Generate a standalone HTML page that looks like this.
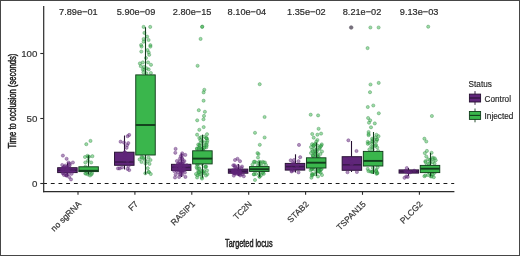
<!DOCTYPE html>
<html><head><meta charset="utf-8"><style>
html,body{margin:0;padding:0;background:#fff;width:520px;height:256px;overflow:hidden}
svg{display:block;will-change:transform}
text{font-family:"Liberation Sans",sans-serif}
.t{font-size:9.7px;fill:#333;stroke:#333;stroke-width:0.2px}
.xl{font-size:8.5px;fill:#333;stroke:#333;stroke-width:0.2px}
.p{font-size:9.2px;fill:#2a2a2a;stroke:#2a2a2a;stroke-width:0.2px}
.l{font-size:8.2px;fill:#1e1e1e;stroke:#1e1e1e;stroke-width:0.15px}
.ti{font-size:10px;fill:#1a1a1a;stroke:#1a1a1a;stroke-width:0.45px}
</style></head><body><svg width="520" height="256" viewBox="0 0 520 256"><rect x="0" y="0" width="520" height="256" fill="#fff"/><line x1="43.1" y1="183.5" x2="454.2" y2="183.5" stroke="#1a1a1a" stroke-width="1.1" stroke-dasharray="3.85 3.85"/><g fill="rgb(58,182,76)" fill-opacity="0.5" stroke="rgb(40,130,60)" stroke-opacity="0.5" stroke-width="0.7"><circle cx="86.3" cy="144.2" r="1.6"/><circle cx="90.5" cy="140.9" r="1.6"/><circle cx="85.0" cy="157.0" r="1.6"/><circle cx="89.0" cy="156.7" r="1.6"/><circle cx="91.2" cy="162.5" r="1.6"/><circle cx="85.3" cy="162.5" r="1.6"/><circle cx="88.0" cy="160.7" r="1.6"/><circle cx="85.3" cy="173.5" r="1.6"/><circle cx="88.0" cy="174.5" r="1.6"/><circle cx="92.0" cy="173.2" r="1.6"/><circle cx="90.0" cy="175.5" r="1.6"/><circle cx="92.4" cy="156.2" r="1.6"/><circle cx="85.4" cy="166.8" r="1.6"/><circle cx="88.3" cy="156.9" r="1.6"/><circle cx="87.5" cy="155.8" r="1.6"/><circle cx="90.0" cy="171.7" r="1.6"/><circle cx="86.1" cy="173.6" r="1.6"/><circle cx="86.8" cy="171.7" r="1.6"/><circle cx="91.4" cy="174.4" r="1.6"/><circle cx="143.6" cy="26.9" r="1.6"/><circle cx="150.2" cy="26.9" r="1.6"/><circle cx="144.4" cy="32.9" r="1.6"/><circle cx="143.6" cy="39.0" r="1.6"/><circle cx="148.6" cy="40.0" r="1.6"/><circle cx="141.1" cy="45.0" r="1.6"/><circle cx="150.4" cy="45.2" r="1.6"/><circle cx="141.6" cy="46.6" r="1.6"/><circle cx="150.4" cy="46.6" r="1.6"/><circle cx="141.3" cy="51.6" r="1.6"/><circle cx="147.5" cy="50.1" r="1.6"/><circle cx="148.7" cy="52.4" r="1.6"/><circle cx="149.2" cy="54.8" r="1.6"/><circle cx="139.9" cy="63.4" r="1.6"/><circle cx="142.8" cy="62.4" r="1.6"/><circle cx="148.1" cy="62.4" r="1.6"/><circle cx="151.0" cy="64.8" r="1.6"/><circle cx="148.7" cy="69.4" r="1.6"/><circle cx="143.4" cy="72.4" r="1.6"/><circle cx="146.0" cy="58.0" r="1.6"/><circle cx="144.0" cy="67.0" r="1.6"/><circle cx="139.6" cy="159.4" r="1.6"/><circle cx="141.5" cy="162.0" r="1.6"/><circle cx="143.5" cy="158.0" r="1.6"/><circle cx="148.5" cy="157.5" r="1.6"/><circle cx="150.5" cy="160.0" r="1.6"/><circle cx="147.5" cy="161.5" r="1.6"/><circle cx="145.5" cy="163.5" r="1.6"/><circle cx="147.8" cy="168.2" r="1.6"/><circle cx="148.5" cy="172.0" r="1.6"/><circle cx="150.8" cy="174.0" r="1.6"/><circle cx="144.3" cy="69.5" r="1.6"/><circle cx="147.1" cy="36.6" r="1.6"/><circle cx="150.9" cy="73.0" r="1.6"/><circle cx="142.8" cy="69.4" r="1.6"/><circle cx="143.6" cy="41.7" r="1.6"/><circle cx="140.8" cy="66.2" r="1.6"/><circle cx="146.4" cy="73.3" r="1.6"/><circle cx="146.6" cy="68.3" r="1.6"/><circle cx="145.0" cy="159.9" r="1.6"/><circle cx="145.3" cy="173.3" r="1.6"/><circle cx="149.5" cy="163.9" r="1.6"/><circle cx="141.7" cy="156.8" r="1.6"/><circle cx="149.0" cy="172.0" r="1.6"/><circle cx="142.1" cy="157.8" r="1.6"/><circle cx="202.3" cy="26.6" r="1.6"/><circle cx="202.1" cy="26.9" r="1.6"/><circle cx="200.6" cy="38.9" r="1.6"/><circle cx="197.6" cy="65.8" r="1.6"/><circle cx="204.3" cy="89.8" r="1.6"/><circle cx="203.6" cy="92.4" r="1.6"/><circle cx="203.6" cy="100.7" r="1.6"/><circle cx="198.8" cy="110.2" r="1.6"/><circle cx="204.9" cy="111.8" r="1.6"/><circle cx="204.0" cy="115.9" r="1.6"/><circle cx="203.5" cy="119.3" r="1.6"/><circle cx="197.2" cy="120.3" r="1.6"/><circle cx="203.7" cy="127.1" r="1.6"/><circle cx="199.3" cy="129.8" r="1.6"/><circle cx="197.1" cy="134.7" r="1.6"/><circle cx="207.0" cy="134.2" r="1.6"/><circle cx="199.3" cy="138.0" r="1.6"/><circle cx="206.4" cy="138.0" r="1.6"/><circle cx="198.2" cy="144.6" r="1.6"/><circle cx="206.4" cy="144.6" r="1.6"/><circle cx="200.4" cy="140.2" r="1.6"/><circle cx="204.8" cy="142.4" r="1.6"/><circle cx="199.8" cy="147.3" r="1.6"/><circle cx="206.4" cy="147.3" r="1.6"/><circle cx="204.2" cy="145.7" r="1.6"/><circle cx="197.0" cy="149.0" r="1.6"/><circle cx="202.0" cy="149.5" r="1.6"/><circle cx="196.6" cy="167.1" r="1.6"/><circle cx="199.3" cy="168.2" r="1.6"/><circle cx="205.3" cy="167.1" r="1.6"/><circle cx="207.0" cy="170.4" r="1.6"/><circle cx="198.2" cy="171.5" r="1.6"/><circle cx="204.2" cy="173.1" r="1.6"/><circle cx="197.1" cy="177.5" r="1.6"/><circle cx="202.0" cy="178.6" r="1.6"/><circle cx="200.4" cy="174.2" r="1.6"/><circle cx="206.0" cy="175.5" r="1.6"/><circle cx="196.0" cy="174.0" r="1.6"/><circle cx="203.5" cy="150.7" r="1.6"/><circle cx="199.4" cy="145.0" r="1.6"/><circle cx="202.4" cy="141.0" r="1.6"/><circle cx="207.0" cy="142.6" r="1.6"/><circle cx="197.0" cy="148.4" r="1.6"/><circle cx="204.4" cy="147.8" r="1.6"/><circle cx="198.8" cy="149.1" r="1.6"/><circle cx="204.2" cy="136.7" r="1.6"/><circle cx="206.7" cy="145.6" r="1.6"/><circle cx="204.2" cy="147.4" r="1.6"/><circle cx="201.6" cy="149.1" r="1.6"/><circle cx="207.0" cy="138.8" r="1.6"/><circle cx="201.1" cy="137.2" r="1.6"/><circle cx="200.4" cy="143.2" r="1.6"/><circle cx="202.4" cy="149.8" r="1.6"/><circle cx="206.2" cy="138.2" r="1.6"/><circle cx="207.4" cy="140.7" r="1.6"/><circle cx="198.8" cy="148.1" r="1.6"/><circle cx="199.9" cy="145.5" r="1.6"/><circle cx="201.5" cy="148.9" r="1.6"/><circle cx="202.3" cy="171.1" r="1.6"/><circle cx="206.1" cy="166.6" r="1.6"/><circle cx="201.9" cy="177.4" r="1.6"/><circle cx="197.2" cy="164.3" r="1.6"/><circle cx="197.4" cy="175.3" r="1.6"/><circle cx="203.2" cy="172.4" r="1.6"/><circle cx="205.6" cy="166.6" r="1.6"/><circle cx="198.4" cy="164.0" r="1.6"/><circle cx="197.2" cy="168.5" r="1.6"/><circle cx="199.5" cy="174.5" r="1.6"/><circle cx="197.4" cy="164.8" r="1.6"/><circle cx="201.8" cy="171.1" r="1.6"/><circle cx="204.1" cy="171.1" r="1.6"/><circle cx="207.4" cy="174.1" r="1.6"/><circle cx="199.1" cy="172.0" r="1.6"/><circle cx="198.9" cy="168.8" r="1.6"/><circle cx="202.1" cy="163.9" r="1.6"/><circle cx="198.9" cy="172.5" r="1.6"/><circle cx="259.7" cy="84.2" r="1.6"/><circle cx="264.6" cy="117.0" r="1.6"/><circle cx="255.0" cy="132.8" r="1.6"/><circle cx="264.6" cy="137.5" r="1.6"/><circle cx="259.8" cy="144.8" r="1.6"/><circle cx="258.5" cy="154.0" r="1.6"/><circle cx="257.5" cy="153.1" r="1.6"/><circle cx="258.0" cy="157.5" r="1.6"/><circle cx="253.8" cy="161.9" r="1.6"/><circle cx="256.2" cy="162.5" r="1.6"/><circle cx="262.5" cy="161.9" r="1.6"/><circle cx="265.0" cy="162.5" r="1.6"/><circle cx="253.8" cy="174.4" r="1.6"/><circle cx="261.2" cy="175.0" r="1.6"/><circle cx="263.8" cy="173.8" r="1.6"/><circle cx="255.0" cy="180.0" r="1.6"/><circle cx="252.5" cy="164.5" r="1.6"/><circle cx="266.0" cy="165.0" r="1.6"/><circle cx="259.2" cy="161.7" r="1.6"/><circle cx="254.7" cy="161.7" r="1.6"/><circle cx="259.6" cy="166.0" r="1.6"/><circle cx="261.8" cy="165.7" r="1.6"/><circle cx="259.6" cy="163.8" r="1.6"/><circle cx="260.0" cy="162.4" r="1.6"/><circle cx="258.0" cy="165.6" r="1.6"/><circle cx="263.7" cy="162.4" r="1.6"/><circle cx="263.2" cy="172.0" r="1.6"/><circle cx="259.6" cy="176.7" r="1.6"/><circle cx="256.0" cy="173.9" r="1.6"/><circle cx="259.3" cy="173.7" r="1.6"/><circle cx="254.1" cy="174.1" r="1.6"/><circle cx="259.5" cy="176.7" r="1.6"/><circle cx="262.6" cy="172.9" r="1.6"/><circle cx="310.7" cy="114.7" r="1.6"/><circle cx="318.1" cy="115.4" r="1.6"/><circle cx="318.6" cy="128.8" r="1.6"/><circle cx="312.2" cy="134.0" r="1.6"/><circle cx="317.4" cy="134.7" r="1.6"/><circle cx="321.1" cy="133.6" r="1.6"/><circle cx="313.7" cy="137.7" r="1.6"/><circle cx="317.4" cy="140.0" r="1.6"/><circle cx="315.6" cy="143.7" r="1.6"/><circle cx="321.8" cy="144.4" r="1.6"/><circle cx="316.3" cy="141.6" r="1.6"/><circle cx="313.8" cy="145.7" r="1.6"/><circle cx="321.2" cy="145.7" r="1.6"/><circle cx="312.2" cy="149.8" r="1.6"/><circle cx="319.6" cy="149.0" r="1.6"/><circle cx="315.5" cy="153.1" r="1.6"/><circle cx="320.4" cy="154.0" r="1.6"/><circle cx="313.0" cy="155.6" r="1.6"/><circle cx="317.0" cy="151.0" r="1.6"/><circle cx="322.0" cy="151.5" r="1.6"/><circle cx="311.0" cy="153.0" r="1.6"/><circle cx="310.6" cy="170.3" r="1.6"/><circle cx="313.0" cy="174.4" r="1.6"/><circle cx="311.4" cy="177.7" r="1.6"/><circle cx="319.6" cy="172.0" r="1.6"/><circle cx="320.4" cy="169.5" r="1.6"/><circle cx="316.3" cy="172.0" r="1.6"/><circle cx="322.0" cy="175.0" r="1.6"/><circle cx="314.0" cy="169.5" r="1.6"/><circle cx="318.0" cy="176.5" r="1.6"/><circle cx="320.6" cy="146.4" r="1.6"/><circle cx="314.2" cy="152.4" r="1.6"/><circle cx="317.5" cy="156.3" r="1.6"/><circle cx="312.1" cy="144.2" r="1.6"/><circle cx="311.0" cy="147.1" r="1.6"/><circle cx="313.2" cy="156.3" r="1.6"/><circle cx="314.2" cy="148.8" r="1.6"/><circle cx="317.5" cy="154.2" r="1.6"/><circle cx="318.7" cy="157.2" r="1.6"/><circle cx="316.3" cy="157.0" r="1.6"/><circle cx="312.9" cy="155.6" r="1.6"/><circle cx="315.5" cy="151.5" r="1.6"/><circle cx="315.2" cy="153.9" r="1.6"/><circle cx="312.5" cy="151.6" r="1.6"/><circle cx="317.6" cy="156.2" r="1.6"/><circle cx="316.5" cy="149.7" r="1.6"/><circle cx="317.4" cy="145.7" r="1.6"/><circle cx="313.3" cy="145.6" r="1.6"/><circle cx="319.6" cy="147.8" r="1.6"/><circle cx="314.2" cy="144.6" r="1.6"/><circle cx="320.9" cy="169.6" r="1.6"/><circle cx="321.7" cy="168.9" r="1.6"/><circle cx="312.2" cy="174.8" r="1.6"/><circle cx="318.7" cy="169.1" r="1.6"/><circle cx="311.8" cy="169.2" r="1.6"/><circle cx="315.3" cy="174.2" r="1.6"/><circle cx="312.1" cy="173.8" r="1.6"/><circle cx="318.2" cy="170.2" r="1.6"/><circle cx="312.9" cy="168.0" r="1.6"/><circle cx="320.7" cy="172.7" r="1.6"/><circle cx="312.0" cy="175.6" r="1.6"/><circle cx="319.0" cy="171.1" r="1.6"/><circle cx="318.2" cy="171.1" r="1.6"/><circle cx="311.5" cy="168.8" r="1.6"/><circle cx="370.4" cy="27.5" r="1.6"/><circle cx="378.6" cy="27.5" r="1.6"/><circle cx="367.6" cy="48.1" r="1.6"/><circle cx="370.5" cy="84.5" r="1.6"/><circle cx="378.7" cy="82.9" r="1.6"/><circle cx="370.0" cy="92.2" r="1.6"/><circle cx="367.8" cy="107.0" r="1.6"/><circle cx="373.3" cy="105.5" r="1.6"/><circle cx="378.8" cy="113.3" r="1.6"/><circle cx="368.1" cy="118.0" r="1.6"/><circle cx="370.2" cy="120.3" r="1.6"/><circle cx="369.0" cy="122.7" r="1.6"/><circle cx="374.8" cy="123.4" r="1.6"/><circle cx="371.0" cy="127.3" r="1.6"/><circle cx="368.6" cy="132.0" r="1.6"/><circle cx="368.6" cy="135.2" r="1.6"/><circle cx="375.6" cy="137.5" r="1.6"/><circle cx="372.9" cy="139.7" r="1.6"/><circle cx="376.3" cy="141.4" r="1.6"/><circle cx="375.5" cy="145.7" r="1.6"/><circle cx="371.2" cy="146.6" r="1.6"/><circle cx="377.2" cy="147.5" r="1.6"/><circle cx="369.0" cy="143.0" r="1.6"/><circle cx="367.7" cy="168.9" r="1.6"/><circle cx="370.3" cy="171.5" r="1.6"/><circle cx="376.3" cy="169.8" r="1.6"/><circle cx="377.2" cy="173.2" r="1.6"/><circle cx="373.0" cy="172.0" r="1.6"/><circle cx="378.5" cy="136.2" r="1.6"/><circle cx="368.6" cy="134.0" r="1.6"/><circle cx="378.1" cy="151.0" r="1.6"/><circle cx="376.0" cy="144.8" r="1.6"/><circle cx="372.7" cy="147.3" r="1.6"/><circle cx="372.3" cy="143.7" r="1.6"/><circle cx="367.7" cy="141.9" r="1.6"/><circle cx="376.9" cy="139.6" r="1.6"/><circle cx="372.6" cy="149.6" r="1.6"/><circle cx="372.1" cy="138.7" r="1.6"/><circle cx="369.4" cy="149.4" r="1.6"/><circle cx="367.8" cy="143.8" r="1.6"/><circle cx="376.4" cy="134.8" r="1.6"/><circle cx="377.1" cy="139.5" r="1.6"/><circle cx="372.0" cy="141.3" r="1.6"/><circle cx="373.1" cy="141.9" r="1.6"/><circle cx="376.5" cy="173.8" r="1.6"/><circle cx="377.6" cy="167.2" r="1.6"/><circle cx="376.2" cy="171.3" r="1.6"/><circle cx="372.1" cy="172.0" r="1.6"/><circle cx="377.3" cy="172.9" r="1.6"/><circle cx="376.0" cy="170.8" r="1.6"/><circle cx="372.1" cy="171.5" r="1.6"/><circle cx="368.4" cy="171.1" r="1.6"/><circle cx="372.8" cy="167.8" r="1.6"/><circle cx="428.2" cy="26.7" r="1.6"/><circle cx="431.9" cy="116.0" r="1.6"/><circle cx="424.4" cy="138.7" r="1.6"/><circle cx="426.3" cy="141.5" r="1.6"/><circle cx="426.9" cy="150.9" r="1.6"/><circle cx="426.3" cy="156.5" r="1.6"/><circle cx="428.2" cy="159.3" r="1.6"/><circle cx="434.8" cy="158.4" r="1.6"/><circle cx="435.7" cy="160.3" r="1.6"/><circle cx="425.4" cy="161.2" r="1.6"/><circle cx="432.9" cy="162.1" r="1.6"/><circle cx="430.0" cy="163.0" r="1.6"/><circle cx="424.4" cy="176.2" r="1.6"/><circle cx="433.8" cy="177.2" r="1.6"/><circle cx="432.0" cy="174.3" r="1.6"/><circle cx="428.0" cy="175.0" r="1.6"/><circle cx="431.6" cy="152.8" r="1.6"/><circle cx="432.9" cy="157.7" r="1.6"/><circle cx="424.8" cy="153.1" r="1.6"/><circle cx="432.6" cy="159.0" r="1.6"/><circle cx="428.9" cy="163.5" r="1.6"/><circle cx="426.6" cy="165.2" r="1.6"/><circle cx="425.6" cy="162.2" r="1.6"/><circle cx="434.5" cy="163.6" r="1.6"/><circle cx="430.1" cy="159.9" r="1.6"/><circle cx="430.7" cy="176.3" r="1.6"/><circle cx="431.5" cy="176.5" r="1.6"/><circle cx="425.3" cy="175.5" r="1.6"/><circle cx="432.9" cy="174.5" r="1.6"/><circle cx="434.7" cy="172.7" r="1.6"/><circle cx="429.7" cy="172.9" r="1.6"/></g><g stroke-width="0.95"><g stroke="rgb(38,16,50)"><line x1="67.50" y1="162.5" x2="67.50" y2="167.7" stroke-width="1.1"/><line x1="67.50" y1="172.6" x2="67.50" y2="176.0" stroke-width="1.1"/><rect x="57.65" y="167.7" width="19.50" height="4.90" fill="rgb(96,38,122)"/><line x1="57.65" y1="170.2" x2="77.15" y2="170.2" stroke-width="1.6" stroke="rgb(60,25,78)"/></g><g stroke="rgb(18,62,28)"><line x1="88.50" y1="155.5" x2="88.50" y2="166.8" stroke-width="1.1"/><line x1="88.50" y1="171.6" x2="88.50" y2="174.5" stroke-width="1.1"/><rect x="78.85" y="166.8" width="19.50" height="4.80" fill="rgb(58,182,76)"/><line x1="78.85" y1="170.8" x2="98.35" y2="170.8" stroke-width="1.9"/></g><g stroke="rgb(38,16,50)"><line x1="124.50" y1="135.5" x2="124.50" y2="152.2" stroke-width="1.1"/><line x1="124.50" y1="165.3" x2="124.50" y2="169.5" stroke-width="1.1"/><rect x="114.55" y="152.2" width="19.50" height="13.10" fill="rgb(96,38,122)"/><line x1="114.55" y1="162.0" x2="134.05" y2="162.0" stroke-width="1.6" stroke="rgb(60,25,78)"/></g><g stroke="rgb(18,62,28)"><line x1="145.50" y1="27.2" x2="145.50" y2="74.9" stroke-width="1.1"/><line x1="145.50" y1="155.0" x2="145.50" y2="174.4" stroke-width="1.1"/><rect x="135.75" y="74.9" width="19.50" height="80.10" fill="rgb(58,182,76)"/><line x1="135.75" y1="125.0" x2="155.25" y2="125.0" stroke-width="1.9"/></g><g stroke="rgb(38,16,50)"><line x1="181.50" y1="153.4" x2="181.50" y2="164.3" stroke-width="1.1"/><line x1="181.50" y1="170.4" x2="181.50" y2="177.0" stroke-width="1.1"/><rect x="171.45" y="164.3" width="19.50" height="6.10" fill="rgb(96,38,122)"/><line x1="171.45" y1="167.4" x2="190.95" y2="167.4" stroke-width="1.6" stroke="rgb(60,25,78)"/></g><g stroke="rgb(18,62,28)"><line x1="202.50" y1="134.6" x2="202.50" y2="150.8" stroke-width="1.1"/><line x1="202.50" y1="163.9" x2="202.50" y2="177.7" stroke-width="1.1"/><rect x="192.65" y="150.8" width="19.50" height="13.10" fill="rgb(58,182,76)"/><line x1="192.65" y1="158.6" x2="212.15" y2="158.6" stroke-width="1.9"/></g><g stroke="rgb(38,16,50)"><line x1="238.50" y1="164.0" x2="238.50" y2="169.1" stroke-width="1.1"/><line x1="238.50" y1="173.2" x2="238.50" y2="176.0" stroke-width="1.1"/><rect x="228.35" y="169.1" width="19.50" height="4.10" fill="rgb(96,38,122)"/><line x1="228.35" y1="171.2" x2="247.85" y2="171.2" stroke-width="1.6" stroke="rgb(60,25,78)"/></g><g stroke="rgb(18,62,28)"><line x1="259.50" y1="161.3" x2="259.50" y2="166.6" stroke-width="1.1"/><line x1="259.50" y1="171.4" x2="259.50" y2="176.9" stroke-width="1.1"/><rect x="249.55" y="166.6" width="19.50" height="4.80" fill="rgb(58,182,76)"/><line x1="249.55" y1="169.2" x2="269.05" y2="169.2" stroke-width="1.9"/></g><g stroke="rgb(38,16,50)"><line x1="295.50" y1="154.3" x2="295.50" y2="163.4" stroke-width="1.1"/><line x1="295.50" y1="170.1" x2="295.50" y2="172.5" stroke-width="1.1"/><rect x="285.25" y="163.4" width="19.50" height="6.70" fill="rgb(96,38,122)"/><line x1="285.25" y1="166.6" x2="304.75" y2="166.6" stroke-width="1.6" stroke="rgb(60,25,78)"/></g><g stroke="rgb(18,62,28)"><line x1="316.50" y1="142.6" x2="316.50" y2="157.8" stroke-width="1.1"/><line x1="316.50" y1="168.0" x2="316.50" y2="176.0" stroke-width="1.1"/><rect x="306.45" y="157.8" width="19.50" height="10.20" fill="rgb(58,182,76)"/><line x1="306.45" y1="162.7" x2="325.95" y2="162.7" stroke-width="1.9"/></g><g stroke="rgb(38,16,50)"><line x1="351.50" y1="141.0" x2="351.50" y2="156.7" stroke-width="1.1"/><line x1="351.50" y1="170.3" x2="351.50" y2="172.0" stroke-width="1.1"/><rect x="342.15" y="156.7" width="19.50" height="13.60" fill="rgb(96,38,122)"/><line x1="342.15" y1="164.8" x2="361.65" y2="164.8" stroke-width="1.6" stroke="rgb(60,25,78)"/></g><g stroke="rgb(18,62,28)"><line x1="373.50" y1="132.0" x2="373.50" y2="151.4" stroke-width="1.1"/><line x1="373.50" y1="166.0" x2="373.50" y2="174.0" stroke-width="1.1"/><rect x="363.35" y="151.4" width="19.50" height="14.60" fill="rgb(58,182,76)"/><line x1="363.35" y1="160.9" x2="382.85" y2="160.9" stroke-width="1.9"/></g><g stroke="rgb(38,16,50)"><line x1="408.50" y1="168.0" x2="408.50" y2="169.9" stroke-width="1.1"/><line x1="408.50" y1="173.1" x2="408.50" y2="176.0" stroke-width="1.1"/><rect x="399.05" y="169.9" width="19.50" height="3.20" fill="rgb(96,38,122)"/><line x1="399.05" y1="171.5" x2="418.55" y2="171.5" stroke-width="1.6" stroke="rgb(60,25,78)"/></g><g stroke="rgb(18,62,28)"><line x1="430.50" y1="152.8" x2="430.50" y2="165.4" stroke-width="1.1"/><line x1="430.50" y1="172.6" x2="430.50" y2="176.5" stroke-width="1.1"/><rect x="420.25" y="165.4" width="19.50" height="7.20" fill="rgb(58,182,76)"/><line x1="420.25" y1="168.7" x2="439.75" y2="168.7" stroke-width="1.9"/></g></g><g fill="rgb(96,38,122)" fill-opacity="0.5" stroke="rgb(96,38,122)" stroke-opacity="0.55" stroke-width="0.7"><circle cx="62.9" cy="155.6" r="1.6"/><circle cx="66.6" cy="158.8" r="1.6"/><circle cx="68.5" cy="162.5" r="1.6"/><circle cx="62.2" cy="165.0" r="1.6"/><circle cx="65.4" cy="165.5" r="1.6"/><circle cx="69.8" cy="165.0" r="1.6"/><circle cx="66.6" cy="175.6" r="1.6"/><circle cx="69.1" cy="176.9" r="1.6"/><circle cx="71.0" cy="179.4" r="1.6"/><circle cx="67.9" cy="173.8" r="1.6"/><circle cx="71.6" cy="173.8" r="1.6"/><circle cx="64.0" cy="175.0" r="1.6"/><circle cx="63.4" cy="173.1" r="1.6"/><circle cx="67.6" cy="169.9" r="1.6"/><circle cx="63.1" cy="168.0" r="1.6"/><circle cx="66.4" cy="170.2" r="1.6"/><circle cx="63.4" cy="167.3" r="1.6"/><circle cx="63.2" cy="168.8" r="1.6"/><circle cx="70.6" cy="171.5" r="1.6"/><circle cx="69.2" cy="167.0" r="1.6"/><circle cx="73.3" cy="171.2" r="1.6"/><circle cx="65.8" cy="170.9" r="1.6"/><circle cx="66.8" cy="170.3" r="1.6"/><circle cx="67.0" cy="167.1" r="1.6"/><circle cx="67.3" cy="166.9" r="1.6"/><circle cx="68.4" cy="169.9" r="1.6"/><circle cx="61.9" cy="170.3" r="1.6"/><circle cx="68.4" cy="171.1" r="1.6"/><circle cx="62.8" cy="169.9" r="1.6"/><circle cx="66.6" cy="168.6" r="1.6"/><circle cx="72.9" cy="162.5" r="1.6"/><circle cx="69.7" cy="163.6" r="1.6"/><circle cx="64.4" cy="166.7" r="1.6"/><circle cx="62.7" cy="173.2" r="1.6"/><circle cx="66.3" cy="174.9" r="1.6"/><circle cx="66.2" cy="175.3" r="1.6"/><circle cx="129.2" cy="134.9" r="1.6"/><circle cx="120.6" cy="141.7" r="1.6"/><circle cx="124.0" cy="142.6" r="1.6"/><circle cx="128.3" cy="143.1" r="1.6"/><circle cx="127.1" cy="145.2" r="1.6"/><circle cx="126.6" cy="147.8" r="1.6"/><circle cx="118.0" cy="168.4" r="1.6"/><circle cx="119.7" cy="168.4" r="1.6"/><circle cx="127.5" cy="168.9" r="1.6"/><circle cx="129.2" cy="170.1" r="1.6"/><circle cx="122.0" cy="167.5" r="1.6"/><circle cx="124.9" cy="152.7" r="1.6"/><circle cx="124.8" cy="152.1" r="1.6"/><circle cx="124.0" cy="159.6" r="1.6"/><circle cx="121.9" cy="158.0" r="1.6"/><circle cx="125.0" cy="153.2" r="1.6"/><circle cx="127.4" cy="160.9" r="1.6"/><circle cx="125.5" cy="154.4" r="1.6"/><circle cx="125.3" cy="155.3" r="1.6"/><circle cx="127.6" cy="136.2" r="1.6"/><circle cx="128.5" cy="166.1" r="1.6"/><circle cx="175.6" cy="148.9" r="1.6"/><circle cx="175.3" cy="152.8" r="1.6"/><circle cx="182.2" cy="153.3" r="1.6"/><circle cx="180.8" cy="156.0" r="1.6"/><circle cx="181.9" cy="158.2" r="1.6"/><circle cx="176.9" cy="161.0" r="1.6"/><circle cx="179.7" cy="161.5" r="1.6"/><circle cx="178.0" cy="172.3" r="1.6"/><circle cx="175.6" cy="174.6" r="1.6"/><circle cx="180.9" cy="174.0" r="1.6"/><circle cx="175.0" cy="177.5" r="1.6"/><circle cx="179.1" cy="177.0" r="1.6"/><circle cx="182.0" cy="171.5" r="1.6"/><circle cx="177.0" cy="169.0" r="1.6"/><circle cx="180.0" cy="164.9" r="1.6"/><circle cx="174.2" cy="171.0" r="1.6"/><circle cx="183.0" cy="166.7" r="1.6"/><circle cx="178.0" cy="164.1" r="1.6"/><circle cx="186.9" cy="165.2" r="1.6"/><circle cx="182.0" cy="169.0" r="1.6"/><circle cx="180.2" cy="168.1" r="1.6"/><circle cx="185.2" cy="165.7" r="1.6"/><circle cx="182.3" cy="163.9" r="1.6"/><circle cx="184.1" cy="165.2" r="1.6"/><circle cx="175.7" cy="168.3" r="1.6"/><circle cx="178.5" cy="165.6" r="1.6"/><circle cx="181.9" cy="163.4" r="1.6"/><circle cx="179.5" cy="165.5" r="1.6"/><circle cx="179.5" cy="164.7" r="1.6"/><circle cx="180.7" cy="166.3" r="1.6"/><circle cx="179.2" cy="166.2" r="1.6"/><circle cx="179.8" cy="170.5" r="1.6"/><circle cx="184.2" cy="168.9" r="1.6"/><circle cx="179.9" cy="168.0" r="1.6"/><circle cx="180.8" cy="163.4" r="1.6"/><circle cx="180.9" cy="170.7" r="1.6"/><circle cx="178.4" cy="163.5" r="1.6"/><circle cx="174.0" cy="168.5" r="1.6"/><circle cx="176.2" cy="165.9" r="1.6"/><circle cx="180.9" cy="171.4" r="1.6"/><circle cx="183.3" cy="169.3" r="1.6"/><circle cx="181.9" cy="170.6" r="1.6"/><circle cx="180.1" cy="169.7" r="1.6"/><circle cx="176.4" cy="170.7" r="1.6"/><circle cx="183.2" cy="161.8" r="1.6"/><circle cx="185.3" cy="154.9" r="1.6"/><circle cx="184.4" cy="161.1" r="1.6"/><circle cx="182.0" cy="155.4" r="1.6"/><circle cx="179.9" cy="158.7" r="1.6"/><circle cx="182.4" cy="159.2" r="1.6"/><circle cx="182.7" cy="170.6" r="1.6"/><circle cx="185.4" cy="176.9" r="1.6"/><circle cx="180.0" cy="174.6" r="1.6"/><circle cx="182.1" cy="174.7" r="1.6"/><circle cx="184.9" cy="172.5" r="1.6"/><circle cx="184.0" cy="170.6" r="1.6"/><circle cx="235.0" cy="160.0" r="1.6"/><circle cx="237.5" cy="158.8" r="1.6"/><circle cx="240.0" cy="161.2" r="1.6"/><circle cx="233.8" cy="175.6" r="1.6"/><circle cx="243.8" cy="176.2" r="1.6"/><circle cx="238.0" cy="166.0" r="1.6"/><circle cx="235.0" cy="167.0" r="1.6"/><circle cx="242.0" cy="166.5" r="1.6"/><circle cx="237.0" cy="172.4" r="1.6"/><circle cx="239.7" cy="171.3" r="1.6"/><circle cx="234.0" cy="170.5" r="1.6"/><circle cx="234.4" cy="172.9" r="1.6"/><circle cx="238.2" cy="173.8" r="1.6"/><circle cx="236.7" cy="172.5" r="1.6"/><circle cx="239.3" cy="171.9" r="1.6"/><circle cx="239.4" cy="173.7" r="1.6"/><circle cx="234.9" cy="173.5" r="1.6"/><circle cx="239.7" cy="173.0" r="1.6"/><circle cx="240.0" cy="172.1" r="1.6"/><circle cx="236.3" cy="169.3" r="1.6"/><circle cx="236.5" cy="172.0" r="1.6"/><circle cx="232.6" cy="172.5" r="1.6"/><circle cx="238.6" cy="174.1" r="1.6"/><circle cx="242.7" cy="174.1" r="1.6"/><circle cx="232.8" cy="170.1" r="1.6"/><circle cx="236.2" cy="173.7" r="1.6"/><circle cx="238.8" cy="168.6" r="1.6"/><circle cx="235.4" cy="170.8" r="1.6"/><circle cx="233.1" cy="171.1" r="1.6"/><circle cx="235.9" cy="168.3" r="1.6"/><circle cx="233.3" cy="165.3" r="1.6"/><circle cx="234.5" cy="165.4" r="1.6"/><circle cx="241.3" cy="168.0" r="1.6"/><circle cx="234.2" cy="173.4" r="1.6"/><circle cx="240.6" cy="174.3" r="1.6"/><circle cx="240.2" cy="175.4" r="1.6"/><circle cx="299.0" cy="144.9" r="1.6"/><circle cx="300.2" cy="157.2" r="1.6"/><circle cx="290.7" cy="160.3" r="1.6"/><circle cx="298.5" cy="161.2" r="1.6"/><circle cx="291.6" cy="171.5" r="1.6"/><circle cx="298.5" cy="172.4" r="1.6"/><circle cx="294.0" cy="160.0" r="1.6"/><circle cx="291.4" cy="168.4" r="1.6"/><circle cx="293.0" cy="163.0" r="1.6"/><circle cx="291.6" cy="170.7" r="1.6"/><circle cx="293.6" cy="170.4" r="1.6"/><circle cx="293.8" cy="163.5" r="1.6"/><circle cx="297.1" cy="166.2" r="1.6"/><circle cx="348.4" cy="140.3" r="1.6"/><circle cx="356.5" cy="151.0" r="1.6"/><circle cx="347.5" cy="172.2" r="1.6"/><circle cx="356.9" cy="172.0" r="1.6"/><circle cx="351.7" cy="164.3" r="1.6"/><circle cx="351.5" cy="163.7" r="1.6"/><circle cx="349.8" cy="158.6" r="1.6"/><circle cx="350.5" cy="158.9" r="1.6"/><circle cx="406.8" cy="168.0" r="1.6"/><circle cx="404.5" cy="177.8" r="1.6"/><circle cx="406.3" cy="176.4" r="1.6"/><circle cx="407.7" cy="176.9" r="1.6"/><circle cx="410.4" cy="172.2" r="1.6"/><circle cx="408.2" cy="172.1" r="1.6"/><circle cx="408.7" cy="172.4" r="1.6"/><circle cx="414.2" cy="170.7" r="1.6"/><circle cx="406.2" cy="171.7" r="1.6"/><circle cx="405.2" cy="170.9" r="1.6"/></g><circle cx="351.2" cy="27.5" r="1.8" fill="rgb(120,112,126)" stroke="rgb(100,95,105)" stroke-width="0.6"/><line x1="43.7" y1="6" x2="43.7" y2="192.2" stroke="#2b2b2b" stroke-width="1.2"/><line x1="43.1" y1="191.6" x2="454.4" y2="191.6" stroke="#2b2b2b" stroke-width="1.2"/><line x1="40.3" y1="183.50" x2="43.7" y2="183.50" stroke="#2b2b2b" stroke-width="1.1"/><text transform="translate(37.3,186.70)" text-anchor="end" class="t">0</text><line x1="40.3" y1="118.50" x2="43.7" y2="118.50" stroke="#2b2b2b" stroke-width="1.1"/><text transform="translate(37.3,121.70)" text-anchor="end" class="t">50</text><line x1="40.3" y1="53.50" x2="43.7" y2="53.50" stroke="#2b2b2b" stroke-width="1.1"/><text transform="translate(37.3,56.70)" text-anchor="end" class="t">100</text><line x1="78.00" y1="191.6" x2="78.00" y2="194.8" stroke="#2b2b2b" stroke-width="1.1"/><text transform="translate(77.50,200.3) rotate(-45)" text-anchor="end" class="xl" dy="6.0">no sgRNA</text><text transform="translate(78.30,14.7)" text-anchor="middle" class="p">7.89e&#x2212;01</text><line x1="134.90" y1="191.6" x2="134.90" y2="194.8" stroke="#2b2b2b" stroke-width="1.1"/><text transform="translate(134.40,200.3) rotate(-45)" text-anchor="end" class="xl" dy="6.0">F7</text><text transform="translate(136.00,14.7)" text-anchor="middle" class="p">5.90e&#x2212;09</text><line x1="191.80" y1="191.6" x2="191.80" y2="194.8" stroke="#2b2b2b" stroke-width="1.1"/><text transform="translate(191.30,200.3) rotate(-45)" text-anchor="end" class="xl" dy="6.0">RASIP1</text><text transform="translate(192.10,14.7)" text-anchor="middle" class="p">2.80e&#x2212;15</text><line x1="248.70" y1="191.6" x2="248.70" y2="194.8" stroke="#2b2b2b" stroke-width="1.1"/><text transform="translate(248.20,200.3) rotate(-45)" text-anchor="end" class="xl" dy="6.0">TC2N</text><text transform="translate(246.90,14.7)" text-anchor="middle" class="p">8.10e&#x2212;04</text><line x1="305.60" y1="191.6" x2="305.60" y2="194.8" stroke="#2b2b2b" stroke-width="1.1"/><text transform="translate(305.10,200.3) rotate(-45)" text-anchor="end" class="xl" dy="6.0">STAB2</text><text transform="translate(306.30,14.7)" text-anchor="middle" class="p">1.35e&#x2212;02</text><line x1="362.50" y1="191.6" x2="362.50" y2="194.8" stroke="#2b2b2b" stroke-width="1.1"/><text transform="translate(362.00,200.3) rotate(-45)" text-anchor="end" class="xl" dy="6.0">TSPAN15</text><text transform="translate(362.00,14.7)" text-anchor="middle" class="p">8.21e&#x2212;02</text><line x1="419.40" y1="191.6" x2="419.40" y2="194.8" stroke="#2b2b2b" stroke-width="1.1"/><text transform="translate(418.90,200.3) rotate(-45)" text-anchor="end" class="xl" dy="6.0">PLCG2</text><text transform="translate(419.10,14.7)" text-anchor="middle" class="p">9.13e&#x2212;03</text><text transform="translate(248.8,247.1) scale(0.73,1)" text-anchor="middle" class="ti">Targeted locus</text><text transform="translate(15.8,101.0) rotate(-90) scale(0.765,1)" text-anchor="middle" class="ti">Time to occlusion (seconds)</text><text x="468.6" y="87.0" class="l">Status</text><line x1="475.0" y1="91.1" x2="475.0" y2="104.9" stroke="rgb(38,16,50)" stroke-width="0.9"/><rect x="469.4" y="94.1" width="11.2" height="7.9" fill="rgb(96,38,122)" stroke="rgb(38,16,50)" stroke-width="0.9"/><line x1="469.4" y1="98.0" x2="480.6" y2="98.0" stroke="rgb(38,16,50)" stroke-width="1.1"/><text x="484.6" y="101.5" class="l">Control</text><line x1="475.0" y1="108.5" x2="475.0" y2="122.3" stroke="rgb(18,62,28)" stroke-width="0.9"/><rect x="469.4" y="111.5" width="11.2" height="7.9" fill="rgb(58,182,76)" stroke="rgb(18,62,28)" stroke-width="0.9"/><line x1="469.4" y1="115.4" x2="480.6" y2="115.4" stroke="rgb(18,62,28)" stroke-width="1.1"/><text x="484.6" y="118.9" class="l">Injected</text><rect x="0.5" y="0.5" width="519" height="255" fill="none" stroke="#464646" stroke-width="1"/></svg></body></html>
